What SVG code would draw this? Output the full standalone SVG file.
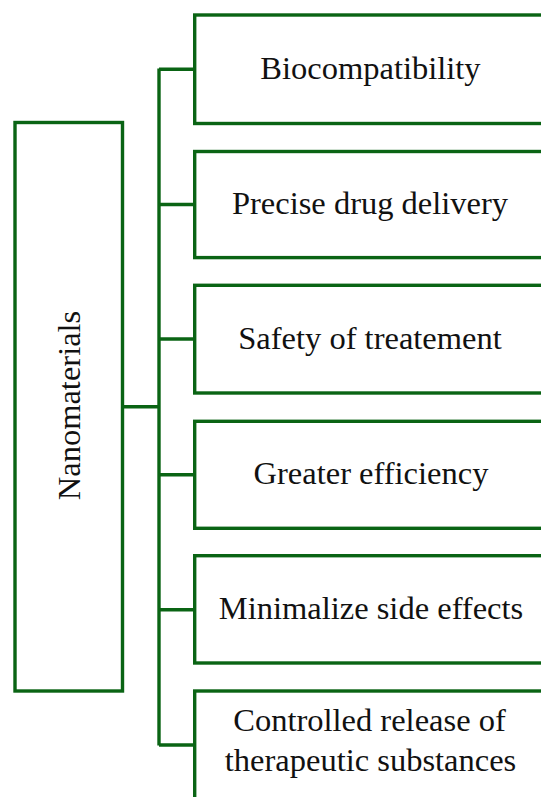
<svg xmlns="http://www.w3.org/2000/svg" width="541" height="797" viewBox="0 0 541 797">
<style>
.box{fill:#ffffff;stroke:#0a6414;stroke-width:3.4}
.ln{fill:none;stroke:#0a6414;stroke-width:3.4}
.t{font-family:"Liberation Serif","Times New Roman",serif;font-size:32.5px;fill:#111111;text-anchor:middle}
</style>
<rect width="541" height="797" fill="#ffffff"/>
<g id="connectors">
<path class="ln" d="M159,68.5 V745.5"/>
<path class="ln" d="M122.5,406.7 H159"/>
<path class="ln" d="M159,69.2 H195"/>
<path class="ln" d="M159,204.5 H195"/>
<path class="ln" d="M159,339 H195"/>
<path class="ln" d="M159,474.8 H195"/>
<path class="ln" d="M159,609.8 H195"/>
<path class="ln" d="M159,745 H195"/>
</g>
<g id="nanomaterials">
<rect class="box" x="15" y="122.5" width="107.5" height="568.5"/>
<text class="t" transform="translate(79.5,405.5) rotate(-90)" x="0" y="0">Nanomaterials</text>
</g>
<g id="biocompatibility">
<rect class="box" x="194.7" y="15" width="370" height="108.5"/>
<text class="t" x="370.5" y="79">Biocompatibility</text>
</g>
<g id="precise-drug-delivery">
<rect class="box" x="194.7" y="151.5" width="370" height="106.1"/>
<text class="t" x="370" y="214">Precise drug delivery</text>
</g>
<g id="safety">
<rect class="box" x="194.7" y="285.3" width="370" height="107.7"/>
<text class="t" x="370" y="349">Safety of treatement</text>
</g>
<g id="efficiency">
<rect class="box" x="194.7" y="421.3" width="370" height="107"/>
<text class="t" x="371" y="484">Greater efficiency</text>
</g>
<g id="side-effects">
<rect class="box" x="194.7" y="555.7" width="370" height="107.3"/>
<text class="t" x="371" y="619">Minimalize side effects</text>
</g>
<g id="controlled-release">
<rect class="box" x="194.7" y="691" width="370" height="120"/>
<text class="t" x="369.5" y="731">Controlled release of</text>
<text class="t" x="370.5" y="771">therapeutic substances</text>
</g>
</svg>
